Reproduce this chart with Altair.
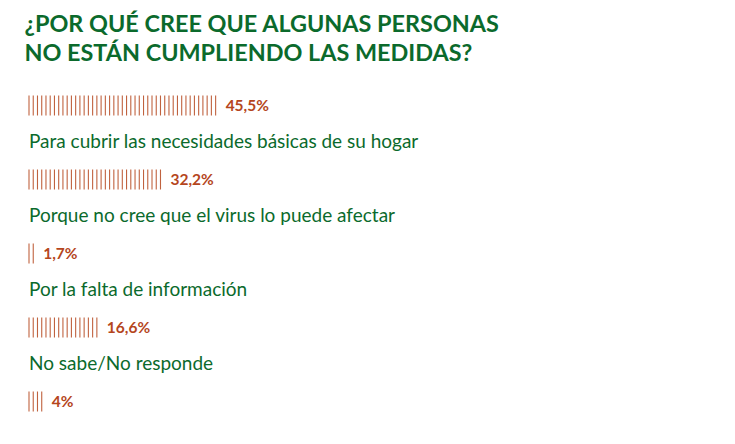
import altair as alt
import pandas as pd

title_lines = ["¿POR QUÉ CREE QUE ALGUNAS PERSONAS", "NO ESTÁN CUMPLIENDO LAS MEDIDAS?"]
values = [45.5, 32.2, 1.7, 16.6, 4.0]
value_labels = ["45,5%", "32,2%", "1,7%", "16,6%", "4%"]
categories = [
    "Para cubrir las necesidades básicas de su hogar",
    "Porque no cree que el virus lo puede afectar",
    "Por la falta de información",
    "No sabe/No responde",
]

STEP = 1.027  # stripe pitch, in percentage points

stripe_rows = []
last_stripe = []
for i, v in enumerate(values):
    n = int(v // STEP) + 1
    for j in range(n):
        stripe_rows.append({"row": i, "x": j * STEP})
    last_stripe.append((n - 1) * STEP)
stripes = pd.DataFrame(stripe_rows)
pct = pd.DataFrame({"row": list(range(len(values))), "x": last_stripe, "label": value_labels})
cats = pd.DataFrame({"row": [i + 0.5 for i in range(len(categories))],
                     "x": [0.0] * len(categories), "label": categories})

W, H = 690, 350
PX_PER_PCT = 4.13
ROW_PX = 74.0
y0 = -(105.5 - 86) / ROW_PX

xs = alt.Scale(domain=[0, W / PX_PER_PCT], nice=False, zero=False)
ys = alt.Scale(domain=[y0, y0 + H / ROW_PX], nice=False, zero=False, reverse=True)

GREEN = "#0b6a2c"
ORANGE = "#b5461d"

bars = alt.Chart(stripes).mark_tick(
    orient="vertical", size=20, thickness=1.1, color=ORANGE, opacity=0.85
).encode(
    x=alt.X("x:Q", scale=xs, axis=None),
    y=alt.Y("row:Q", scale=ys, axis=None),
)

pct_text = alt.Chart(pct).mark_text(
    align="left", baseline="middle", dx=10, font="Lato", fontWeight="bold",
    fontSize=15.5, color=ORANGE
).encode(
    x=alt.X("x:Q", scale=xs, axis=None),
    y=alt.Y("row:Q", scale=ys, axis=None),
    text="label:N",
)

cat_text = alt.Chart(cats).mark_text(
    align="left", baseline="middle", dy=-1, font="Lato", fontSize=19, color=GREEN
).encode(
    x=alt.X("x:Q", scale=xs, axis=None),
    y=alt.Y("row:Q", scale=ys, axis=None),
    text="label:N",
)

chart = alt.layer(bars, pct_text, cat_text).properties(
    width=W, height=H,
    autosize=alt.AutoSizeParams(type="none"),
    padding={"left": 21, "top": 78, "right": 0, "bottom": 0},
    background="white",
    title=alt.TitleParams(
        text=title_lines, anchor="start", font="Lato", fontWeight="bold",
        fontSize=23.4, lineHeight=28.7, color=GREEN, offset=20, dx=-4,
    ),
).configure_view(stroke=None)

chart.save("out.html", embed_options={"renderer": "svg", "actions": False})
